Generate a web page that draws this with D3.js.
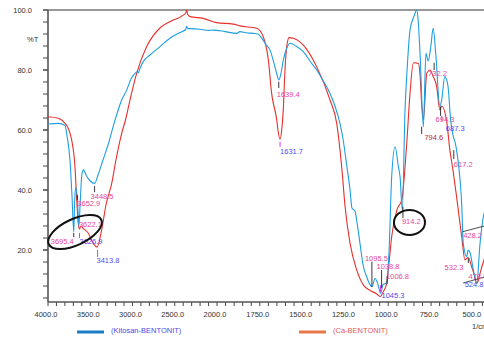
<!DOCTYPE html>
<html>
<head>
<meta charset="utf-8">
<script src="https://cdn.jsdelivr.net/npm/d3@7"></script>
<style>
  html, body { margin: 0; padding: 0; background: #fff; }
  svg { display: block; font-family: "Liberation Sans", Arial, sans-serif; }
</style>
</head>
<body>
<svg id="chart" width="484" height="337"></svg>
<script>
// Kitosan-BENTONIT spectrum: wavenumber (1/cm) and %T
const wnKitosan = [4000, 3882, 3799, 3775, 3740, 3716, 3695, 3686, 3672, 3663, 3653, 3645, 3635, 3617, 3600, 3580,
  3550, 3500, 3449, 3408, 3349, 3290, 3207, 3128, 3069, 3018, 2971, 2940, 2932, 2912, 2873, 2793, 2675, 2557,
  2438, 2370, 2359, 2345, 2320, 2202, 2100, 2044, 1953, 1885, 1866, 1831, 1788, 1761, 1739, 1714, 1691, 1662,
  1650, 1639, 1626, 1613, 1591, 1574, 1539, 1496, 1457, 1418, 1381, 1340, 1311, 1282, 1264, 1242, 1223, 1212,
  1194, 1182, 1165, 1147, 1126, 1112, 1095, 1077, 1060, 1045, 1030, 1009, 995, 980, 960, 941, 931, 918, 902,
  890, 873, 849, 834, 826, 814, 795, 780, 767, 751, 738, 722, 699, 688, 670, 652, 635, 620, 610, 593, 571, 562,
  542, 533, 522, 503, 483, 464, 440, 420];
const tKitosan = [62, 62.2, 61.5, 58, 50, 38, 26, 35, 41, 39.5, 37.8, 33, 28, 37, 45, 46.7,
  45, 43, 42.2, 45, 50, 55, 63.3, 70, 73.3, 77, 78.9, 79.5, 79, 80.5, 82.8, 85, 87.8, 90.6,
  92.5, 93.5, 94.6, 93.8, 93.8, 93.6, 93.2, 93.3, 92.8, 92.2, 92.8, 92.4, 92.2, 92, 90.6, 88.5, 86.7, 81.1,
  78.5, 76.7, 79, 83.3, 87.5, 88.9, 88, 86.1, 83, 80, 76.5, 72.2, 68, 62.2, 57, 48, 40, 34,
  33, 29, 22.2, 15, 11.1, 9, 7.8, 10.5, 8.5, 5.6, 8.5, 9, 20, 44.4, 54.4, 47.8, 44.4, 33.3, 66.7,
  80, 93.3, 98, 100, 97, 85, 61, 85.6, 83, 88, 93.9, 85, 67.8, 70, 77.8, 75, 63, 57.8, 56, 50, 35, 22.2,
  17.8, 20, 19, 13.3, 8.9, 22.2, 32.2, 34];

// Ca-BENTONIT spectrum
const wnCa = [4000, 3878, 3799, 3760, 3720, 3681, 3660, 3642, 3628, 3610, 3582, 3523, 3464, 3420, 3365, 3314,
  3246, 3196, 3128, 3077, 3030, 2951, 2832, 2675, 2557, 2399, 2370, 2359, 2345, 2320, 2163, 2004, 1905, 1866,
  1768, 1730, 1700, 1681, 1651, 1644, 1632, 1622, 1613, 1603, 1593, 1579, 1554, 1496, 1418, 1340, 1301, 1272,
  1252, 1223, 1184, 1145, 1106, 1071, 1045, 1030, 1009, 995, 980, 950, 921, 892, 873, 853, 824, 814, 804, 795,
  775, 756, 739, 717, 699, 688, 660, 640, 623, 601, 571, 552, 533, 513, 499, 483, 476, 464, 441, 420];
const tCa = [64.4, 63.9, 62.2, 60.5, 56.7, 47.8, 36.7, 28.9, 27, 28, 27.2, 25.6, 22.2, 21, 26.7, 35,
  42.2, 50, 58.9, 64, 70, 78.9, 87.8, 94, 96.1, 98.3, 99, 100, 98.5, 97.8, 97.2, 95.8, 95.3, 94.7,
  93.9, 91.1, 83.3, 72.2, 63.3, 60, 56.9, 60, 66.7, 80, 87.8, 90.8, 90.6, 88.3, 81.1, 70, 62.2, 47.8,
  34.4, 22.2, 13.3, 8.3, 6.5, 5.5, 4.5, 6, 8.9, 16, 24.4, 33.3, 36.7, 55.6, 72.2, 82.4, 82.2, 78, 68, 63.5,
  78.9, 80, 78, 74.4, 66.7, 68, 63.3, 53.3, 47, 37.8, 24.4, 16.7, 17.5, 14.4, 12, 8.9, 9.5, 12.2, 16.7, 20];

// axis ticks
const xMajor = [4000, 3500, 3000, 2500, 2000, 1750, 1500, 1250, 1000, 750, 500];
const yMajor = [100, 80, 60, 40, 20];

// peak labels: text, %T of label, colour kind
const peakText = ["3448.5", "3652.9", "3622.1", "3695.4", "3626.9", "3413.8", "1639.4", "1631.7", "1095.5",
  "1038.8", "1006.8", "1045.3", "914.2", "794.6", "732.2", "694.3", "687.3", "617.2", "532.3", "478.6", "524.8", "428.2"];
const peakLabelT = [38, 35.7, 28.7, 23, 23, 16.7, 72, 53, 17.3, 14.7, 11.3, 5, 29.4, 57.7, 79, 63.7, 60.7, 48.7, 14.3, 11.3, 8.7, 25];
const peakKind = ["p", "p", "p", "p", "b", "b", "p", "b", "p", "p", "p", "b", "p", "r", "p", "p", "b", "p", "p", "p", "b", "p"];

// little peak marker lines: wavenumber, %T top, %T bottom, colour kind
const markWn = [3695.4, 3626.9, 3413.8, 3448.5, 3652.9, 1639.4, 1631.7, 1095.5, 1038.8, 1006.8, 1045.3, 914.2, 805, 732.2, 694.3, 687.3, 617.2, 532.3];
const markTop = [25.7, 25.7, 20, 41.3, 38.3, 76.1, 56.1, 16.1, 13.3, 11.3, 8.3, 34.4, 61.1, 82.4, 67.8, 64.7, 53.3, 17.3];
const markBot = [24.3, 24, 17.7, 39.3, 36.7, 74, 54.4, 7.8, 7.3, 8.7, 6.1, 30.7, 58.7, 80, 64.7, 63, 50.3, 15.7];
const markKind = ["k", "m", "m", "k", "k", "k", "m", "k", "k", "k", "m", "k", "k", "k", "k", "m", "k", "k"];

const colours = { p: "#e8459a", b: "#4f4cf2", r: "#c0282a", k: "#222", m: "#e020e0" };

const svg = d3.select("#chart");
const mLeft = 48, mRight = 484, mTop = 10, mBottom = 302;

const x = d3.scaleLinear().domain([4000, 2000, 400]).range([mLeft, 217, 491]);
const y = d3.scaleLinear().domain([100, 2.67]).range([mTop, mBottom]);

svg.append("defs").append("clipPath").attr("id", "plot")
  .append("rect").attr("x", mLeft).attr("y", mTop - 2).attr("width", mRight - mLeft).attr("height", mBottom - mTop + 2);

// top frame line
svg.append("line").attr("x1", mLeft).attr("x2", mRight).attr("y1", mTop).attr("y2", mTop)
  .attr("stroke", "#333").attr("stroke-width", 1.2);

// y axis
const yMinor = d3.range(4, 101, 4);
svg.append("g").selectAll("line").data(yMinor).join("line")
  .attr("x1", mLeft - 5).attr("x2", mLeft).attr("y1", d => y(d)).attr("y2", d => y(d))
  .attr("stroke", "#444").attr("stroke-width", 1);
svg.append("g").selectAll("line").data(yMajor).join("line")
  .attr("x1", mLeft - 5).attr("x2", mLeft).attr("y1", d => y(d)).attr("y2", d => y(d))
  .attr("stroke", "#444").attr("stroke-width", 1);
svg.append("g").selectAll("text").data(yMajor).join("text")
  .attr("x", 32).attr("y", d => y(d)).attr("dy", "0.35em")
  .attr("text-anchor", "end").attr("font-size", 7.5).attr("fill", "#333")
  .text(d => d.toFixed(1));
svg.append("text").attr("x", 27).attr("y", 39).attr("dy", "0.35em")
  .attr("font-size", 7.5).attr("fill", "#333").text("%T");
svg.append("line").attr("x1", mLeft).attr("x2", mLeft).attr("y1", mTop).attr("y2", mBottom)
  .attr("stroke", "#555").attr("stroke-width", 1.6);

// x axis
const xMinor = d3.range(4000, 1999, -100).concat(d3.range(1950, 399, -50));
svg.append("g").selectAll("line").data(xMinor).join("line")
  .attr("x1", d => x(d)).attr("x2", d => x(d)).attr("y1", mBottom).attr("y2", mBottom + 4)
  .attr("stroke", "#444").attr("stroke-width", 1);
svg.append("g").selectAll("text").data(xMajor).join("text")
  .attr("x", d => x(d) - 2).attr("y", mBottom + 15)
  .attr("text-anchor", "middle").attr("font-size", 7.5).attr("fill", "#333")
  .text(d => d.toFixed(1));
svg.append("line").attr("x1", mLeft).attr("x2", mRight).attr("y1", mBottom).attr("y2", mBottom)
  .attr("stroke", "#555").attr("stroke-width", 1.6);
svg.append("text").attr("x", 472).attr("y", 329).attr("font-size", 7.5).attr("fill", "#333").text("1/cm");

// spectra
const line = d3.line().x(d => x(d[0])).y(d => y(d[1])).curve(d3.curveMonotoneX);
const plot = svg.append("g").attr("clip-path", "url(#plot)");
plot.append("path").datum(d3.zip(wnCa, tCa)).attr("d", line)
  .attr("fill", "none").attr("stroke", "#e5302c").attr("stroke-width", 1.1);
plot.append("path").datum(d3.zip(wnKitosan, tKitosan)).attr("d", line)
  .attr("fill", "none").attr("stroke", "#1c9ee0").attr("stroke-width", 1.1);

// baseline lines of the last peaks
const baseWn = [[565, 400], [563, 400]];
const baseT = [[26.1, 28.6], [9, 11.6]];
plot.append("g").selectAll("line").data(d3.range(baseWn.length)).join("line")
  .attr("x1", i => x(baseWn[i][0])).attr("x2", i => x(baseWn[i][1]))
  .attr("y1", i => y(baseT[i][0])).attr("y2", i => y(baseT[i][1]))
  .attr("stroke", "#222").attr("stroke-width", 0.8);

// marker ticks
plot.append("g").selectAll("line").data(d3.range(markWn.length)).join("line")
  .attr("x1", i => x(markWn[i])).attr("x2", i => x(markWn[i]))
  .attr("y1", i => y(markTop[i])).attr("y2", i => y(markBot[i]))
  .attr("stroke", i => colours[markKind[i]]).attr("stroke-width", 0.9);

// peak labels (offsets in px relative to the peak position)
const labelDx = [-4, 0, -1, 0, 0, -1, -2, 0, -7, -5, -1, 1, -1, 1, -6, -5, 4, 0, -5, -9, -5, -23];
const labelAnchor = peakText.map((t, i) => (i === 3 || i === 18) ? "end" : "start");
svg.append("g").selectAll("text").data(d3.range(peakText.length)).join("text")
  .attr("x", i => x(+peakText[i]) + labelDx[i]).attr("y", i => y(peakLabelT[i])).attr("dy", "0.35em")
  .attr("text-anchor", i => labelAnchor[i])
  .attr("font-size", 7.5).attr("fill", i => colours[peakKind[i]])
  .text(i => peakText[i]);

// highlight ellipses
const ringWn = [3680, 876];
const ringT = [26, 29.2];
const ringR = [[29, 13, -25], [15.5, 12.5, 0]];
svg.append("g").selectAll("ellipse").data(d3.range(ringWn.length)).join("ellipse")
  .attr("cx", 0).attr("cy", 0)
  .attr("rx", i => ringR[i][0]).attr("ry", i => ringR[i][1])
  .attr("transform", i => `translate(${x(ringWn[i])},${y(ringT[i])}) rotate(${ringR[i][2]})`)
  .attr("fill", "none").attr("stroke", "#111").attr("stroke-width", 2);

// legend
const legendNames = ["(Kitosan-BENTONIT)", "(Ca-BENTONIT)"];
const legendSwatch = ["#1a7cc6", "#e8784a"];
const legendText = ["#4a48ee", "#e25a50"];
const legendX = [77, 299];
const lg = svg.append("g").selectAll("g").data(d3.range(2)).join("g")
  .attr("transform", i => `translate(${legendX[i]},332)`);
lg.append("rect").attr("x", 0).attr("y", -1.5).attr("width", 27).attr("height", 3).attr("fill", i => legendSwatch[i]);
lg.append("text").attr("x", 34).attr("y", -1.5).attr("dy", "0.35em")
  .attr("font-size", 7.5).attr("fill", i => legendText[i]).text(i => legendNames[i]);
</script>
</body>
</html>
